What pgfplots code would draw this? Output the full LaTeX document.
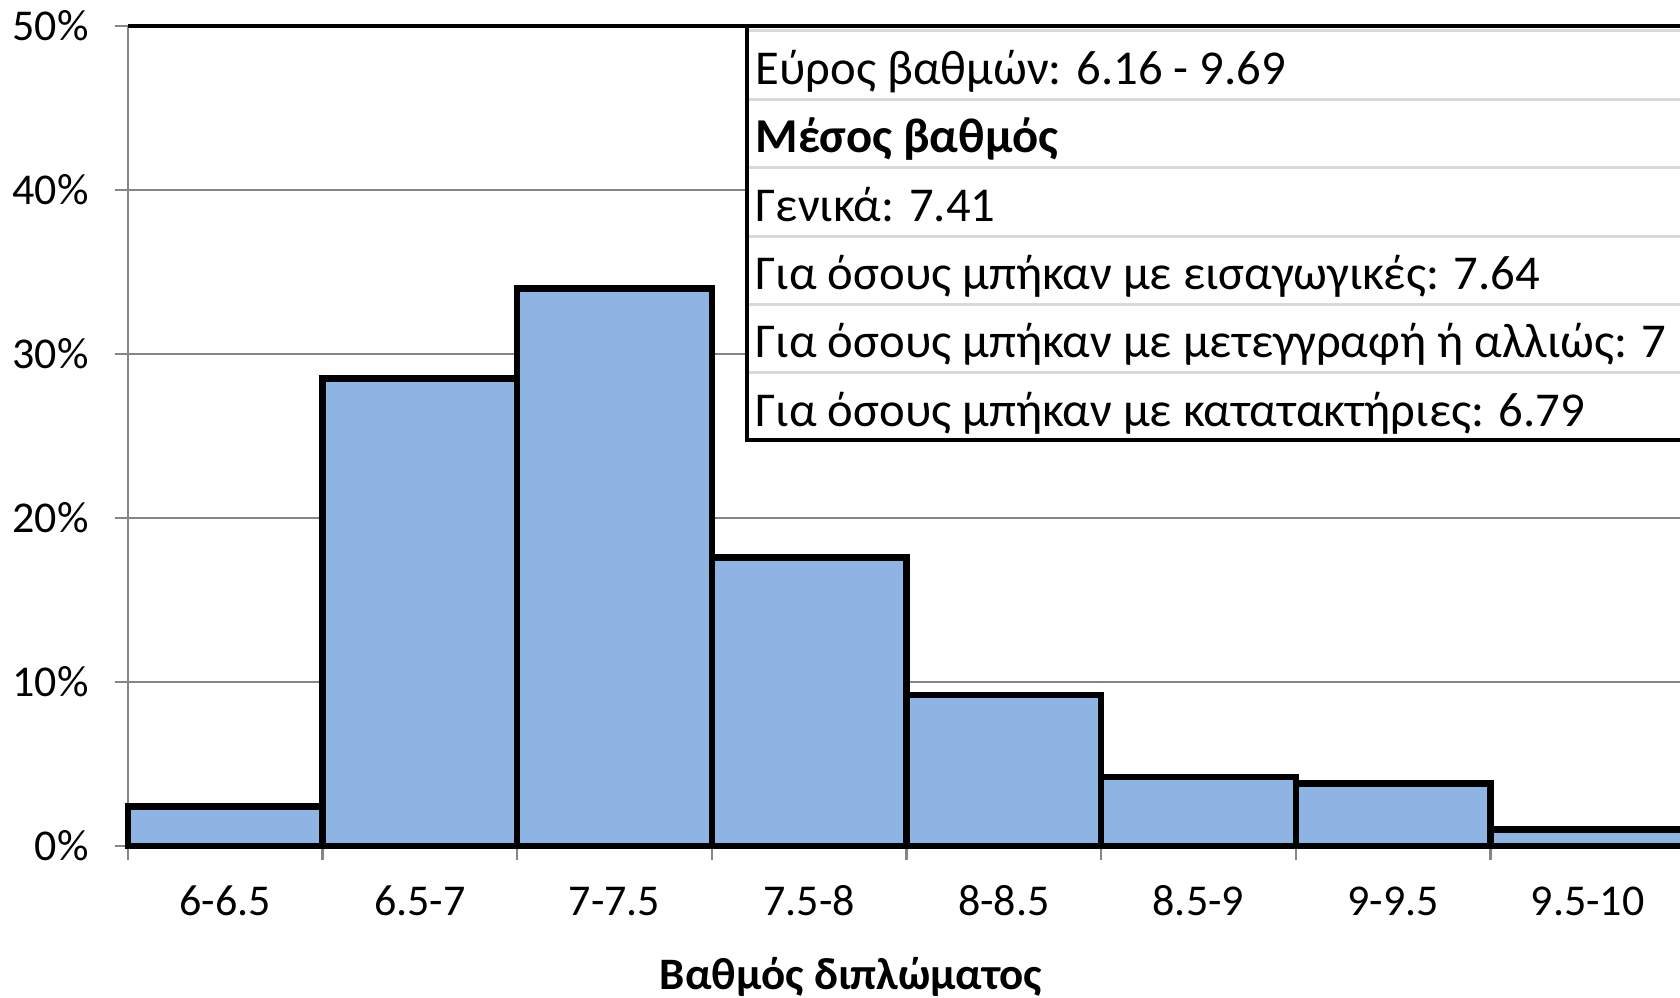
\documentclass[border=0pt]{standalone}
\usepackage{fontspec}
\setmainfont{Carlito}
\usepackage{pgfplots}
\pgfplotsset{compat=1.18}
\definecolor{barblue}{HTML}{8EB4E3}
\definecolor{axisgray}{HTML}{868686}
\definecolor{sepgray}{HTML}{D9D9D9}

\begin{document}
\begin{tikzpicture}
\begin{axis}[
    at={(0pt,0pt)}, anchor=south west,
    scale only axis,
    width=467.1pt, height=246pt,
    xmin=0, xmax=8, ymin=0, ymax=50,
    axis x line*=bottom, axis y line*=left,
    axis line style={draw=axisgray, line width=0.8pt},
    tick align=outside,
    major tick length=3.9pt, minor tick length=4.2pt,
    tick style={axisgray, line width=0.7pt},
    ytick={0,10,...,50},
    yticklabel={\pgfmathprintnumber{\tick}\%},
    ymajorgrids,
    grid style={axisgray, line width=0.65pt},
    xtick={0.5,1.5,...,7.5},
    xticklabels={6-6.5,6.5-7,7-7.5,7.5-8,8-8.5,8.5-9,9-9.5,9.5-10},
    major x tick style={draw=none},
    minor xtick={0,1,...,8},
    ticklabel style={font=\fontsize{13.2}{15}\selectfont},
    /pgf/number format/assume math mode=true,
    yticklabel style={xshift=-4.4pt},
    xticklabel style={anchor=base, yshift=-17pt},
    clip=false,
]
\addplot[ybar interval, fill=barblue, draw=black, line width=1.9pt] coordinates {
    (0,2.4) (1,28.5) (2,34.0) (3,17.6) (4,9.2) (5,4.2) (6,3.8) (7,1.0) (8,1.0)
};
\end{axis}

% overlay in image pixels
\begin{scope}[shift={(-38.4pt,253.8pt)}, x=0.3pt, y=-0.3pt]
\begin{scope}
\clip (0,0) rectangle (1680,998);
\fill[white] (747,25) rectangle (1700,440);
\foreach \r in {0,...,5}
    \draw[sepgray, line width=0.9pt] (748,31+68.4*\r) -- (1700,31+68.4*\r);
\draw[black, line width=1pt] (128,26) -- (1700,26);
\draw[black, line width=1pt] (1700,440) -- (747,440) -- (747,26);
\begin{scope}[every node/.style={anchor=base west, inner sep=0pt,
        font=\fontsize{14.6}{16}\selectfont}]
\node at (755,85)  {Εύρος βαθμών: 6.16 - 9.69};
\node at (755,153) {\bfseries Μέσος βαθμός};
\node at (755,222) {Γενικά: 7.41};
\node at (755,290) {Για όσους μπήκαν με εισαγωγικές: 7.64};
\node at (755,358) {Για όσους μπήκαν με μετεγγραφή ή αλλιώς: 7};
\node at (755,427) {Για όσους μπήκαν με κατατακτήριες: 6.79};
\end{scope}
\end{scope}
\node[anchor=base, inner sep=0pt, font=\fontsize{13.5}{16}\selectfont\bfseries]
    at (851,990) {Βαθμός διπλώματος};
\pgfresetboundingbox
\path[use as bounding box] (0,0) rectangle (1680,998);
\end{scope}
\end{tikzpicture}
\end{document}
